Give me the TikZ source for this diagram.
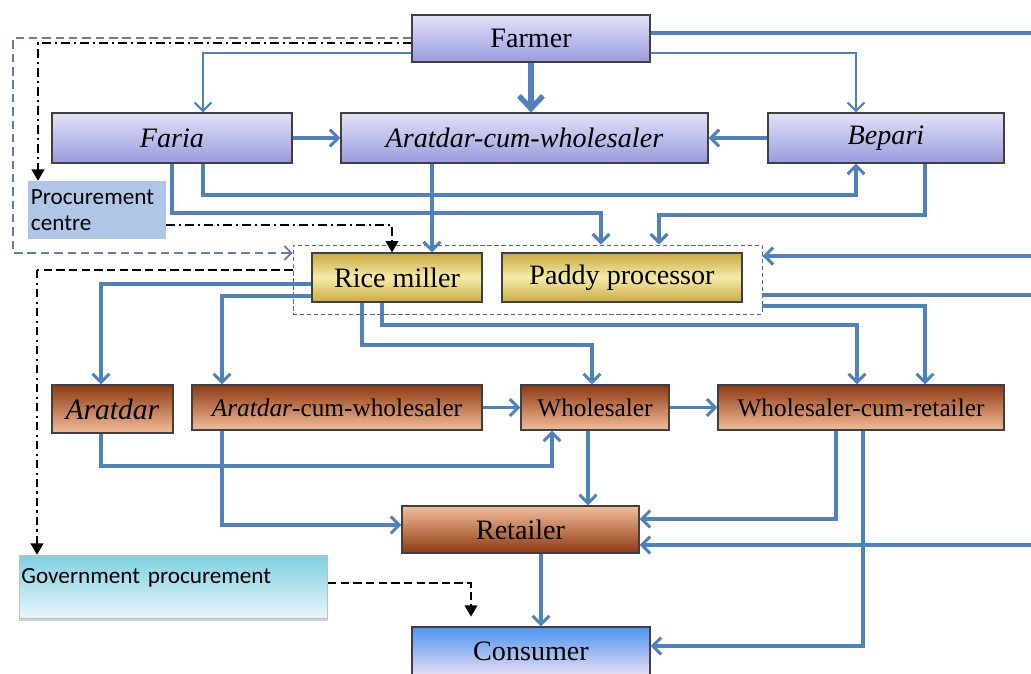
\documentclass[tikz,border=0pt]{standalone}
\usepackage{fontspec}
\setmainfont{Liberation Serif}
\newfontfamily\calibri{Carlito}
\usetikzlibrary{arrows.meta,shadows}

\definecolor{flowblue}{HTML}{4F81BD}
\definecolor{altblue}{HTML}{5F7FA8}
\definecolor{lavTop}{HTML}{E2E2F8}
\definecolor{lavBot}{HTML}{9A9ADE}
\definecolor{goldEdge}{HTML}{C9AA40}
\definecolor{goldMid}{HTML}{F6ECA8}
\definecolor{brownDark}{HTML}{8E3A12}
\definecolor{brownLight}{HTML}{F2BE9A}
\definecolor{consTop}{HTML}{4C94F0}
\definecolor{consBot}{HTML}{E6DDF2}
\definecolor{procFill}{HTML}{AFC6E6}
\definecolor{govTop}{HTML}{7ECFE0}
\definecolor{govBot}{HTML}{E8F6FA}

\begin{document}
\begin{tikzpicture}[x=0.025cm, y=-0.025cm,
  box/.style={rectangle, draw=black!75, line width=0.8pt, inner sep=0pt, font=\fontsize{20}{22}\selectfont},
  lavbox/.style={box, top color=lavTop, bottom color=lavBot},
  goldbox/.style={box, top color=goldEdge, bottom color=goldEdge, middle color=goldMid},
  brownbox/.style={box, top color=brownDark, bottom color=brownLight, font=\fontsize{18}{20}\selectfont},
  groupbox/.style={rectangle, draw=black!60, dash pattern=on 3pt off 2pt, line width=0.6pt, inner sep=0pt},
  flow/.style={draw=flowblue, line width=2.2pt, -{Straight Barb[length=6pt,width=12pt]}},
  thinflow/.style={flow, line width=1.5pt},
  bigflow/.style={draw=flowblue, line width=3.8pt, -{Straight Barb[length=9pt,width=17pt]}},
  flowline/.style={draw=flowblue, line width=2.2pt},
  dashdotline/.style={draw=black, line width=1.2pt, dash pattern=on 6pt off 3pt on 1.5pt off 3pt},
  govline/.style={dashdotline, -{Triangle[length=8pt,width=9pt]}},
  govdash/.style={draw=black, line width=1.2pt, dash pattern=on 6pt off 3pt, -{Triangle[length=8pt,width=9pt]}},
  altline/.style={draw=altblue, line width=1.2pt, dash pattern=on 6pt off 3.5pt, -{Straight Barb[length=5pt,width=10pt]}}
]
\useasboundingbox (0,0) rectangle (1031,673);
%%%%%%%%%%%%%%%%%%%%%%%%%%%%%%% first level
\node[lavbox, minimum width=5.95cm, minimum height=1.175cm](farmer) at (531,38.5){Farmer};
\node[lavbox, minimum width=6cm, minimum height=1.25cm](faria) at (172,138){\textit{Faria}};
\node[lavbox, minimum width=9.175cm, minimum height=1.25cm](awTop) at (524.5,138){\textit{Aratdar-cum-wholesaler}};
\node[lavbox, minimum width=5.9cm, minimum height=1.25cm](bepari) at (886,138){\textit{Bepari}};
\node[rectangle, fill=procFill, inner sep=1pt, minimum width=3.45cm, minimum height=1.45cm, text width=3.3cm, align=left,
  font=\calibri\fontsize{16.5}{19}\selectfont](procure) at (97,210){Procurement\\centre};

%%%%%%%%%%%%%%%%%%%%%%%%%%%%%%% processors
\node[groupbox, minimum width=11.725cm, minimum height=1.725cm](group) at (527.5,279.5){};
\node[goldbox, minimum width=4.25cm, minimum height=1.225cm](miller) at (397,277.5){Rice miller};
\node[goldbox, minimum width=6cm, minimum height=1.225cm](paddy) at (622,277.5){Paddy processor};

%%%%%%%%%%%%%%%%%%%%%%%%%%%%%%% traders
\node[brownbox, minimum width=3.025cm, minimum height=1.2cm, font=\fontsize{21}{23}\selectfont](aratdar) at (112.5,409){\textit{Aratdar}};
\node[brownbox, minimum width=7.25cm, minimum height=1.125cm](awLow) at (337,407.5){\textit{Aratdar}-cum-wholesaler};
\node[brownbox, minimum width=3.7cm, minimum height=1.125cm](wholesaler) at (595,407.5){Wholesaler};
\node[brownbox, minimum width=7.15cm, minimum height=1.125cm](wcr) at (861,407.5){Wholesaler-cum-retailer};
\node[box, top color=brownLight, bottom color=brownDark, minimum width=5.925cm, minimum height=1.175cm](retailer) at (520.5,529.5){Retailer};

%%%%%%%%%%%%%%%%%%%%%%%%%%%%%%% end of chain
\node[rectangle, draw=black!25, top color=govTop, bottom color=govBot, inner xsep=1.5pt, inner ysep=2pt,
  text height=18pt, text depth=22.8pt, text width=7.6cm, align=left,
  drop shadow={shadow xshift=0pt, shadow yshift=-2pt, opacity=0.35},
  font=\calibri\fontsize{16.5}{19}\selectfont](gov) at (173.5,586.5){Government procurement};
\node[box, top color=consTop, bottom color=consBot, minimum width=5.95cm, minimum height=1.2cm](consumer) at (531,651){Consumer};

\coordinate (outR1) at (1031,33);
\coordinate (outR2) at (1031,295);
\coordinate (inR1) at (1031,256);
\coordinate (inR2) at (1031,545);
\coordinate (govBend) at (37,270);

% farmer
\draw[thinflow] (farmer.west |- 0,53) -| (faria.north -| 203,0);
\draw[bigflow] (farmer.south) -- (farmer.south |- awTop.north);
\draw[thinflow] (farmer.east |- 0,53) -| (bepari.north -| 856,0);
\draw[flowline] (farmer.east |- outR1) -- (outR1);
\draw[altline] (farmer.west |- 0,38) -| (13,253) -- (group.west |- 0,253);
\draw[govline] (farmer.west |- 0,43) -| (procure.north -| 38,0);

% first level
\draw[flow] (faria.east) -- (awTop.west);
\draw[flow] (bepari.west) -- (awTop.east);
\draw[flow] (faria.south -| 203,0) -- (203,195) -| (bepari.south -| 856,0);
\draw[flow] (faria.south -| 172,0) -- (172,213) -| (group.north -| 601,0);
\draw[flow] (bepari.south -| 925,0) -- (925,215) -| (group.north -| 659,0);
\draw[flow] (awTop.south -| 432,0) -- (miller.north -| 432,0);
\draw[govline] (procure.east |- 0,225) -| (miller.north -| 392,0);

% processors
\draw[flow] (inR1) -- (group.east |- inR1);
\draw[flowline] (group.east |- outR2) -- (outR2);
\draw[flow] (group.east |- 0,306) -| (wcr.north -| 925,0);
\draw[flow] (miller.west |- 0,284) -| (aratdar.north -| 101,0);
\draw[flow] (miller.west |- 0,296) -| (awLow.north -| 222,0);
\draw[flow] (miller.south -| 362,0) -- (362,345) -| (wholesaler.north -| 592,0);
\draw[flow] (miller.south -| 382,0) -- (382,325) -| (wcr.north -| 857,0);
\draw[black, line width=1.2pt, dash pattern=on 6pt off 3pt] (group.west |- govBend) -- (govBend);
\draw[govline] (govBend) -- (gov.north -| govBend);

% traders
\draw[flow] (awLow.east) -- (wholesaler.west);
\draw[flow] (wholesaler.east) -- (wcr.west);
\draw[flow] (aratdar.south -| 101,0) -- (101,466) -| (wholesaler.south -| 552,0);
\draw[flow] (awLow.south -| 222,0) |- (retailer.west |- 0,525);
\draw[flow] (wholesaler.south -| 588,0) -- (retailer.north -| 588,0);
\draw[flow] (wcr.south -| 836,0) |- (retailer.east |- 0,519);
\draw[flow] (inR2) -- (retailer.east |- inR2);
\draw[flow] (wcr.south -| 863,0) |- (consumer.east |- 0,646);
\draw[flow] (retailer.south -| 541,0) -- (consumer.north -| 541,0);
\draw[govdash, shorten >=7pt] (gov.east |- 0,583) -| (consumer.north -| 471,0);

\end{tikzpicture}
\end{document}
